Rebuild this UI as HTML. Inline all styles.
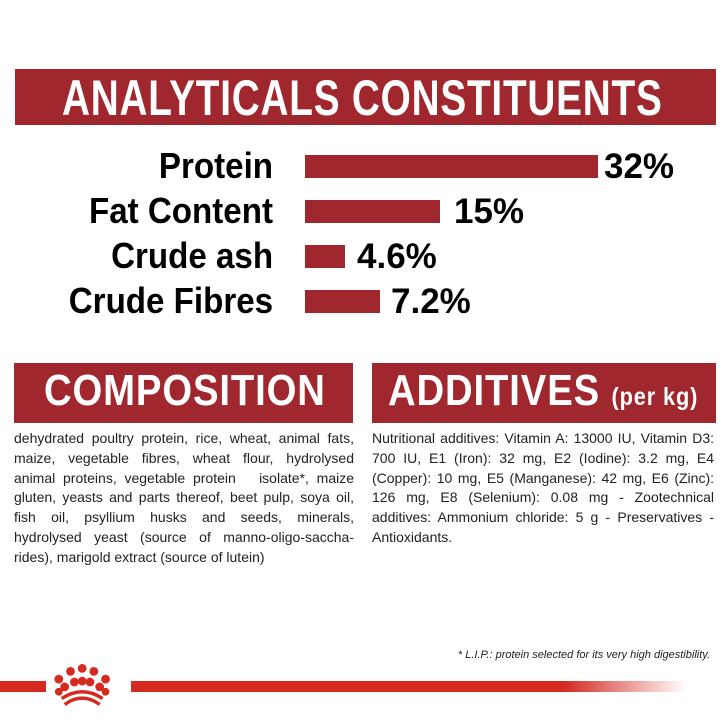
<!DOCTYPE html>
<html><head><meta charset="utf-8"><style>
body{margin:0;width:726px;height:726px;background:#fff;position:relative;overflow:hidden;font-family:"Liberation Sans Narrow","Liberation Sans",sans-serif}
.box{position:absolute;background:#a0272d;color:#fff;font-weight:bold;white-space:nowrap}
.t{position:absolute;white-space:nowrap;transform-origin:0 0}
.lbl{position:absolute;right:453px;font-weight:bold;font-size:36px;color:#000;white-space:nowrap;line-height:40px;transform-origin:100% 50%;transform:scaleX(0.92)}
.bar{position:absolute;left:305px;background:#a0272d;height:23px}
.pct{position:absolute;font-weight:bold;font-size:35px;line-height:40px;color:#000}
.txt{position:absolute;top:429px;font-size:14px;line-height:19.8px;text-align:justify;color:#222}
</style></head><body>
<div class="box" style="left:15px;top:69px;width:701px;height:56px"></div>
<div class="t" style="left:62px;top:69px;font-size:50px;font-weight:bold;color:#fff;letter-spacing:1px;transform:scaleX(0.775)">ANALYTICALS CONSTITUENTS</div>

<div class="lbl" style="top:146px">Protein</div>
<div class="bar" style="top:155px;width:293px"></div>
<div class="pct" style="left:604px;top:147px">32%</div>
<div class="lbl" style="top:191px">Fat Content</div>
<div class="bar" style="top:200px;width:135px"></div>
<div class="pct" style="left:454px;top:192px">15%</div>
<div class="lbl" style="top:236px">Crude ash</div>
<div class="bar" style="top:245px;width:40px"></div>
<div class="pct" style="left:357px;top:237px">4.6%</div>
<div class="lbl" style="top:281px">Crude Fibres</div>
<div class="bar" style="top:290px;width:75px"></div>
<div class="pct" style="left:391px;top:282px">7.2%</div>

<div class="box" style="left:14px;top:363px;width:339px;height:60px"></div>
<div class="t" style="left:44px;top:366px;font-size:44px;font-weight:bold;color:#fff;letter-spacing:1px;transform:scaleX(0.87)">COMPOSITION</div>
<div class="box" style="left:372px;top:363px;width:344px;height:60px"></div>
<div class="t" style="left:388px;top:366px;font-size:44px;font-weight:bold;color:#fff;letter-spacing:1px;transform:scaleX(0.87)">ADDITIVES <span style="font-size:25px">(per kg)</span></div>

<div class="txt" style="left:14px;width:340px">dehydrated poultry protein, rice, wheat, animal fats, maize, vegetable fibres, wheat flour, hydrolysed animal proteins, vegetable protein &nbsp;&nbsp;isolate*, maize gluten, yeasts and parts thereof, beet pulp, soya oil, fish oil, psyllium husks and seeds, minerals, hydrolysed yeast (source of manno-oligo-saccha-rides), marigold extract (source of lutein)</div>
<div class="txt" style="left:372px;width:342px">Nutritional additives: Vitamin A: 13000 IU, Vitamin D3: 700 IU, E1 (Iron): 32 mg, E2 (Iodine): 3.2 mg, E4 (Copper): 10 mg, E5 (Manganese): 42 mg, E6 (Zinc): 126 mg, E8 (Selenium): 0.08 mg - Zootechnical additives: Ammonium chloride: 5 g - Preservatives - Antioxidants.</div>

<div class="t" style="right:16px;top:649px;font-size:11px;font-style:italic;color:#222">* L.I.P.: protein selected for its very high digestibility.</div>

<div style="position:absolute;left:0;top:681px;width:46px;height:11px;background:#d42a20"></div>
<div style="position:absolute;left:131px;top:681px;width:555px;height:11px;background:linear-gradient(to right,#d42a20 0%,#d42a20 78%,rgba(212,42,32,0) 100%)"></div>
<svg style="position:absolute;left:52px;top:662px" width="74" height="44" viewBox="0 0 76 44">
<g fill="#d42a20">
<circle cx="7" cy="17" r="4.5"/><circle cx="19" cy="9" r="4.5"/><circle cx="31" cy="6" r="4.5"/><circle cx="43" cy="9" r="4.5"/><circle cx="55" cy="17" r="4.5"/>
<circle cx="13" cy="25" r="4.5"/><circle cx="23" cy="20" r="4.5"/><circle cx="31" cy="19" r="4.5"/><circle cx="39" cy="20" r="4.5"/><circle cx="49" cy="25" r="4.5"/>
<circle cx="7" cy="30" r="4"/><circle cx="55" cy="30" r="4"/>
</g>
<path d="M10 37 Q31 23 52 37" stroke="#d42a20" stroke-width="3.5" fill="none"/>
<path d="M13 43 Q31 30 49 43" stroke="#d42a20" stroke-width="3.5" fill="none"/>
</svg>
</body></html>
